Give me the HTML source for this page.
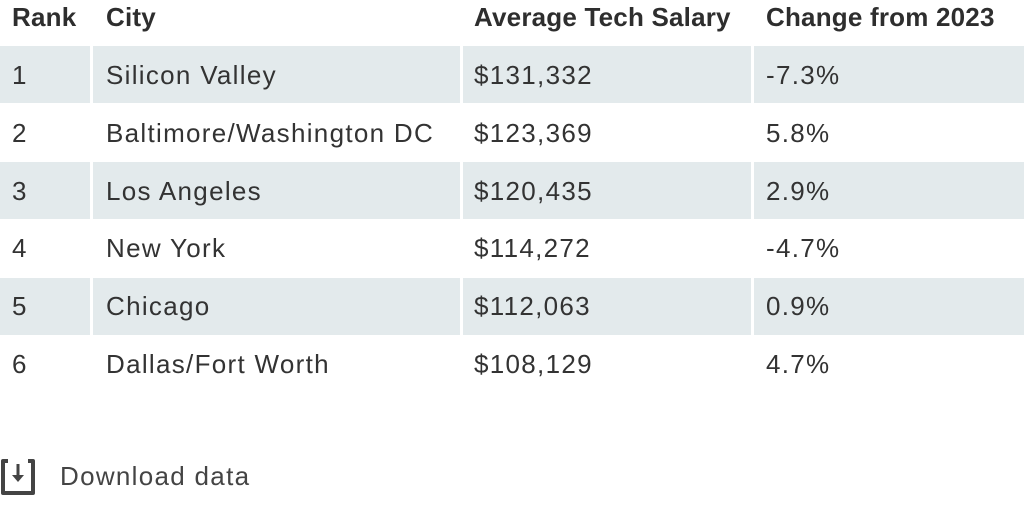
<!DOCTYPE html>
<html><head><style>
body{margin:0;width:1024px;height:512px;background:#fff;font-family:"Liberation Sans",sans-serif;color:#333;position:relative;overflow:hidden}
.t{position:absolute;font-size:26px;letter-spacing:1.3px;line-height:30px;white-space:nowrap}
.h{font-weight:bold;color:#2e2e2e;letter-spacing:0.2px}
.bg{position:absolute;left:0;width:1024px;background:#e3eaec}
.dv{position:absolute;top:0;width:3px;height:400px;background:#fff}
</style></head><body>
<div class="bg" style="top:46px;height:57px"></div>
<div class="bg" style="top:162px;height:57px"></div>
<div class="bg" style="top:278px;height:57px"></div>
<div class="dv" style="left:90px"></div>
<div class="dv" style="left:460px"></div>
<div class="dv" style="left:751px"></div>

<div class="t h" style="left:12px;top:2px">Rank</div>
<div class="t h" style="left:106px;top:2px">City</div>
<div class="t h" style="left:474px;top:2px">Average Tech Salary</div>
<div class="t h" style="left:766px;top:2px">Change from 2023</div>

<div class="t" style="left:12px;top:60px">1</div><div class="t" style="left:106px;top:60px">Silicon Valley</div><div class="t" style="left:474px;top:60px">$131,332</div><div class="t" style="left:766px;top:60px">-7.3%</div>
<div class="t" style="left:12px;top:118px">2</div><div class="t" style="left:106px;top:118px">Baltimore/Washington DC</div><div class="t" style="left:474px;top:118px">$123,369</div><div class="t" style="left:766px;top:118px">5.8%</div>
<div class="t" style="left:12px;top:176px">3</div><div class="t" style="left:106px;top:176px">Los Angeles</div><div class="t" style="left:474px;top:176px">$120,435</div><div class="t" style="left:766px;top:176px">2.9%</div>
<div class="t" style="left:12px;top:233px">4</div><div class="t" style="left:106px;top:233px">New York</div><div class="t" style="left:474px;top:233px">$114,272</div><div class="t" style="left:766px;top:233px">-4.7%</div>
<div class="t" style="left:12px;top:291px">5</div><div class="t" style="left:106px;top:291px">Chicago</div><div class="t" style="left:474px;top:291px">$112,063</div><div class="t" style="left:766px;top:291px">0.9%</div>
<div class="t" style="left:12px;top:349px">6</div><div class="t" style="left:106px;top:349px">Dallas/Fort Worth</div><div class="t" style="left:474px;top:349px">$108,129</div><div class="t" style="left:766px;top:349px">4.7%</div>

<svg style="position:absolute;left:0;top:458px" width="38" height="40" viewBox="0 0 38 40">
<path d="M8 3H3V35H33V3H28" fill="none" stroke="#444" stroke-width="4" stroke-linejoin="round"/>
<path d="M18 6V20" stroke="#444" stroke-width="3"/>
<path d="M12 17L18 24L24 17Z" fill="#444"/>
</svg>
<div class="t" style="left:60px;top:461px;color:#444">Download data</div>
</body></html>
